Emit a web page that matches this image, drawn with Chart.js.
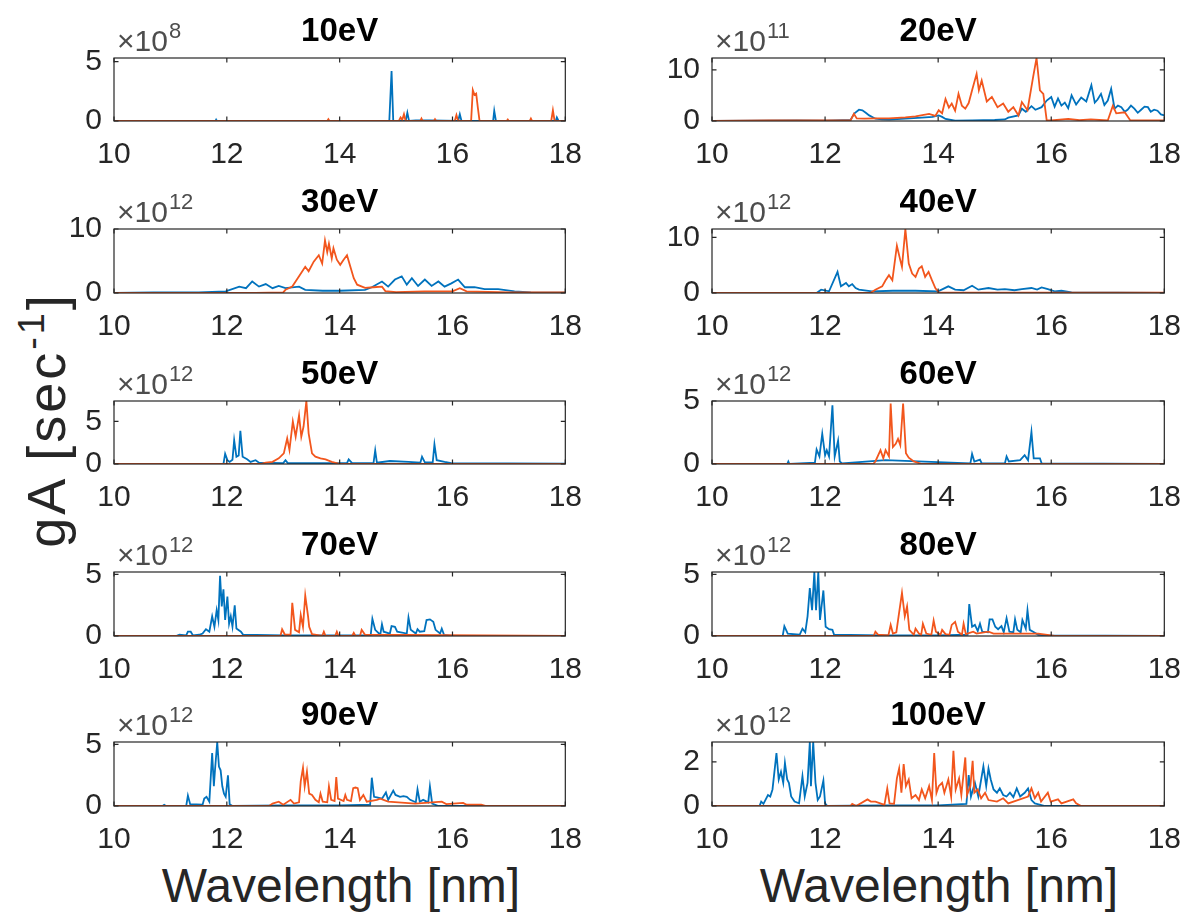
<!DOCTYPE html>
<html>
<head>
<meta charset="utf-8">
<script src="https://cdn.jsdelivr.net/npm/chart.js@4.4.1/dist/chart.umd.min.js"></script>
<style>
  html, body { margin: 0; padding: 0; background: #fff; }
  #page { position: relative; width: 1187px; height: 916px; overflow: hidden; background: #fff; }
  canvas { position: absolute; }
  .lbl { position: absolute; font-family: "Liberation Sans", Arial, sans-serif; color: #262626; white-space: nowrap; line-height: 1; }
  .lbl sup { font-size: 0.7em; vertical-align: 0.55em; line-height: 0; }
</style>
</head>
<body>
<div id="page">
  <div class="lbl" id="xlab1" style="left:341px; top:862px; font-size:48px; transform:translateX(-50%);">Wavelength [nm]</div>
  <div class="lbl" id="xlab2" style="left:939px; top:862px; font-size:48px; transform:translateX(-50%);">Wavelength [nm]</div>
  <div class="lbl" id="ylab" style="left:46px; top:420px; font-size:54px; letter-spacing:3px; transform:translate(-50%,-50%) rotate(-90deg);">gA [sec<sup>-1</sup>]</div>
</div>
<script>
// x values in nm, y values in units of the panel multiplier
var titles = ['10eV','20eV','30eV','40eV','50eV','60eV','70eV','80eV','90eV','100eV'];
var exponents = [8, 11, 12, 12, 12, 12, 12, 12, 12, 12];
var yMaxes = [5.3, 12.3, 10, 11.5, 7.4, 5, 5.2, 5.2, 5.2, 2.9];
var yTickSets = [[0,5],[0,5,10],[0,5,10],[0,5,10],[0,5],[0,5],[0,5],[0,5],[0,5],[0,2]];
var xTicks = [10, 12, 14, 16, 18];

var blue10 = [[10,0],[11.8,0],[11.81,0.1],[11.82,0],[14.88,0],[14.92,4.2],[14.95,0],[15.17,0],[15.2,0.7],[15.23,0],[15.35,0.05],[15.6,0.05],[16.1,0],[16.13,0.57],[16.16,0],[16.72,0],[16.74,0.86],[16.77,0],[17.83,0],[17.85,0.3],[17.88,0],[18,0]];
var orange10 = [[10,0],[13.78,0],[13.8,0.15],[13.82,0],[15.05,0],[15.08,0.3],[15.11,0.1],[15.14,0.57],[15.17,0],[15.43,0],[15.45,0.2],[15.47,0],[15.67,0],[15.69,0.15],[15.71,0],[16.04,0],[16.07,0.5],[16.1,0],[16.33,0],[16.36,2.6],[16.39,2.2],[16.42,2.3],[16.45,1.1],[16.48,0],[16.96,0],[16.98,0.12],[17.0,0],[17.37,0],[17.39,0.2],[17.41,0],[17.75,0],[17.78,0.9],[17.81,0],[18,0]];

var blue20 = [[10,0],[11.5,0.1],[12.0,0.05],[12.45,0.2],[12.52,1.5],[12.6,2.2],[12.66,2.1],[12.72,1.6],[12.78,1.1],[12.89,0.45],[13.0,0.3],[13.13,0.25],[13.42,0.45],[13.71,0.65],[13.9,0.8],[14.01,1.1],[14.07,0.8],[14.13,0.4],[14.3,0.05],[14.6,0.1],[15.0,0.2],[15.18,0.3],[15.24,0.65],[15.42,1.1],[15.48,2.4],[15.55,1.8],[15.65,2.9],[15.72,2.2],[15.83,2.7],[15.92,4.0],[16.0,4.7],[16.06,2.8],[16.12,4.4],[16.18,3.0],[16.24,3.6],[16.3,2.5],[16.36,5.0],[16.44,3.2],[16.53,4.6],[16.62,3.8],[16.71,7.0],[16.77,3.6],[16.82,4.2],[16.88,5.3],[16.94,3.1],[17.0,4.0],[17.06,6.3],[17.12,2.4],[17.18,3.0],[17.24,2.7],[17.3,1.8],[17.35,2.2],[17.41,3.0],[17.47,2.4],[17.53,1.6],[17.59,2.2],[17.65,2.8],[17.71,2.7],[17.76,1.8],[17.82,2.2],[17.88,2.0],[17.94,1.3],[18.0,1.1]];
var orange20 = [[10,0],[11.0,0.1],[12.45,0.1],[12.51,1.4],[12.56,0.5],[12.7,0.45],[12.89,0.5],[13.13,0.5],[13.42,0.7],[13.6,0.9],[13.84,1.4],[13.95,1.0],[14.01,2.1],[14.07,1.5],[14.13,4.3],[14.19,2.6],[14.24,3.4],[14.3,2.0],[14.36,5.3],[14.42,3.0],[14.48,2.4],[14.54,3.5],[14.6,6.0],[14.68,9.2],[14.72,6.0],[14.77,7.9],[14.86,3.8],[14.95,4.7],[15.05,2.7],[15.15,3.4],[15.24,1.8],[15.33,2.7],[15.42,1.1],[15.48,3.7],[15.58,2.1],[15.68,8.6],[15.74,12.3],[15.8,6.0],[15.86,5.3],[15.92,0.1],[16.0,0.1],[16.3,0.4],[16.5,0.15],[16.7,0.3],[17.0,0.1],[17.09,3.0],[17.15,1.5],[17.3,1.7],[17.4,0.1],[18,0.1]];

var blue30 = [[10,0],[10.7,0.1],[11.5,0.1],[11.98,0.25],[12.22,1.0],[12.34,0.75],[12.45,1.8],[12.57,1.0],[12.69,1.4],[12.81,0.75],[12.92,1.1],[13.04,0.75],[13.28,1.0],[13.39,0.5],[13.7,0.35],[14.0,0.35],[14.45,0.5],[14.57,0.9],[14.75,1.8],[14.86,1.0],[14.98,2.1],[15.1,2.6],[15.19,1.3],[15.28,2.3],[15.39,1.1],[15.51,2.1],[15.63,1.1],[15.75,1.8],[15.86,1.0],[15.98,1.5],[16.1,2.1],[16.22,0.9],[16.39,0.9],[16.57,0.6],[16.81,0.6],[17.1,0.25],[17.39,0.1],[18,0.05]];
var orange30 = [[10,0],[12.5,0],[13.0,0.1],[13.04,0.5],[13.16,1.0],[13.28,2.6],[13.39,4.1],[13.45,3.4],[13.54,4.9],[13.63,5.9],[13.69,4.6],[13.74,8.2],[13.78,6.4],[13.81,7.7],[13.86,5.4],[13.89,7.0],[13.95,5.2],[14.01,4.4],[14.07,5.2],[14.13,5.9],[14.19,4.1],[14.25,2.3],[14.31,1.3],[14.45,0.8],[14.6,0.9],[14.75,1.0],[14.81,0.3],[15.0,0.15],[15.5,0.25],[16.0,0.25],[16.13,0.75],[16.25,0.25],[17.0,0.1],[18,0.1]];

var blue40 = [[10,0],[11.85,0],[11.93,0.6],[12.07,0.3],[12.22,3.8],[12.28,1.2],[12.37,1.8],[12.42,1.2],[12.48,1.6],[12.54,0.9],[12.6,0.6],[12.83,0.3],[13.2,0.4],[13.6,0.4],[14.0,0.3],[14.18,1.2],[14.3,0.6],[14.45,0.5],[14.6,1.3],[14.71,0.6],[14.89,0.9],[15.05,0.6],[15.18,0.7],[15.35,0.5],[15.48,0.7],[15.65,0.9],[15.75,0.6],[15.83,1.0],[15.94,0.7],[16.06,0.3],[16.18,0.4],[16.36,0.1],[18,0]];
var orange40 = [[10,0],[12.8,0],[12.89,0.6],[13.01,1.2],[13.07,2.3],[13.13,3.2],[13.19,2.3],[13.27,8.5],[13.33,5.9],[13.36,4.7],[13.42,11.5],[13.48,5.3],[13.54,3.5],[13.6,2.9],[13.66,4.4],[13.71,4.8],[13.77,2.9],[13.83,3.8],[13.89,2.3],[13.95,0.9],[14.01,0.1],[18,0.05]];

var blue50 = [[10,0],[11.94,0],[11.97,1.2],[12.01,0.45],[12.05,0.25],[12.1,0.5],[12.13,2.8],[12.17,0.85],[12.21,1.0],[12.24,3.9],[12.28,0.85],[12.36,0.55],[12.42,0.25],[12.51,0.45],[12.57,0.15],[13.0,0.1],[13.04,0.45],[13.08,0.1],[14.13,0.1],[14.16,0.55],[14.22,0.1],[14.6,0.1],[14.63,1.6],[14.66,0.15],[14.89,0.35],[15.22,0.25],[15.43,0.15],[15.46,0.86],[15.51,0.2],[15.65,0.2],[15.68,2.3],[15.72,0.45],[15.86,0.25],[15.98,0.1],[18,0.05]];
var orange50 = [[10,0],[12.6,0],[12.69,0.15],[12.81,0.25],[12.92,0.66],[13.01,1.25],[13.07,3.0],[13.11,1.65],[13.17,5.0],[13.22,3.2],[13.28,5.7],[13.32,3.2],[13.36,4.4],[13.41,7.4],[13.45,3.6],[13.51,1.25],[13.57,0.86],[13.66,0.66],[13.75,0.55],[13.86,0.25],[13.98,0.05],[18,0]];

var blue60 = [[10,0],[11.33,0],[11.35,0.2],[11.37,0],[11.82,0.1],[11.85,1.15],[11.9,0.6],[11.95,2.4],[12.0,0.7],[12.03,1.1],[12.07,0.6],[12.13,4.65],[12.17,0.6],[12.23,1.85],[12.26,0.2],[12.3,0.05],[13.07,0.3],[14.57,0.05],[14.6,0.8],[14.64,0.2],[14.74,0.35],[14.77,0.05],[15.18,0.05],[15.21,0.6],[15.25,0.2],[15.45,0.3],[15.53,0.7],[15.59,0.3],[15.65,2.55],[15.69,0.45],[15.8,0.45],[15.83,0.05],[18,0]];
var orange60 = [[10,0],[12.85,0],[12.89,0.2],[12.98,1.1],[13.03,0.45],[13.07,1.1],[13.13,0.6],[13.16,4.8],[13.2,1.35],[13.25,1.6],[13.29,2.0],[13.33,1.5],[13.38,4.8],[13.43,0.85],[13.48,0.5],[13.57,0.2],[13.71,0],[18,0]];

var blue70 = [[10,0],[11.1,0],[11.16,0.1],[11.28,0.05],[11.31,0.35],[11.36,0.35],[11.4,0.05],[11.51,0.1],[11.57,0.2],[11.63,0.55],[11.69,0.35],[11.74,1.6],[11.78,0.75],[11.82,2.1],[11.85,1.3],[11.88,4.9],[11.91,2.4],[11.94,3.8],[11.97,1.3],[12.01,3.2],[12.04,1.0],[12.07,1.6],[12.1,0.75],[12.14,2.5],[12.17,0.6],[12.25,0.35],[12.29,0.1],[13.0,0.05],[14.0,0.05],[14.55,0.05],[14.58,1.4],[14.63,0.5],[14.72,0.1],[14.75,0.95],[14.78,0.35],[14.89,0.2],[14.92,0.8],[14.98,0.75],[15.02,0.35],[15.19,0.2],[15.22,1.5],[15.26,0.5],[15.35,0.2],[15.38,0.55],[15.42,0.35],[15.5,0.4],[15.54,1.3],[15.6,1.35],[15.66,1.15],[15.7,0.5],[15.78,0.2],[15.81,0.6],[15.85,0.1],[15.98,0],[18,0]];
var orange70 = [[10,0],[12.95,0],[12.98,0.55],[13.03,0.1],[13.13,0.1],[13.16,2.7],[13.21,0.5],[13.28,0.3],[13.31,1.7],[13.35,0.75],[13.39,3.3],[13.44,1.6],[13.46,0.75],[13.51,0.15],[13.69,0],[13.72,0.35],[13.75,0],[13.92,0],[13.95,0.35],[13.98,0],[14.22,0],[14.25,0.25],[14.28,0],[14.36,0],[14.39,0.5],[14.45,0.1],[18,0]];

var blue80 = [[10,0],[11.25,0],[11.28,0.8],[11.34,0.2],[11.55,0.1],[11.6,0.6],[11.65,0.3],[11.69,1.6],[11.73,3.9],[11.77,2.1],[11.81,5.2],[11.84,2.1],[11.88,5.2],[11.91,1.3],[11.97,3.7],[12.01,0.75],[12.07,0.55],[12.13,0.5],[12.16,0.1],[13.0,0.05],[14.0,0.05],[14.52,0.1],[14.55,2.6],[14.6,0.75],[14.65,0.9],[14.7,0.4],[14.74,1.0],[14.78,0.35],[14.88,0.3],[14.91,1.35],[14.96,1.35],[15.01,0.75],[15.06,0.55],[15.12,0.8],[15.16,0.3],[15.21,1.45],[15.26,0.35],[15.33,0.3],[15.36,1.35],[15.4,0.5],[15.46,0.3],[15.49,1.3],[15.55,0.6],[15.58,2.1],[15.62,0.5],[15.68,0.35],[15.77,0.1],[15.9,0.05],[18,0]];
var orange80 = [[10,0],[12.86,0],[12.89,0.35],[12.94,0.1],[13.12,0.05],[13.16,0.9],[13.2,0.2],[13.26,0.3],[13.3,1.6],[13.36,3.5],[13.41,1.6],[13.45,2.4],[13.49,0.5],[13.57,0.1],[13.6,0.6],[13.66,0.2],[13.7,0.1],[13.73,1.0],[13.79,0.2],[13.88,0.1],[13.92,1.25],[13.96,0.35],[14.04,0.1],[14.07,0.5],[14.13,0.15],[14.2,0.1],[14.24,0.9],[14.3,1.15],[14.35,0.35],[14.42,0.1],[14.45,1.0],[14.49,0.15],[14.62,0.35],[14.68,0.2],[14.89,0.35],[14.98,0.2],[15.77,0.2],[16.06,0],[18,0]];

var blue90 = [[10,0],[10.86,0],[10.89,0.1],[10.92,0],[11.28,0],[11.31,0.85],[11.35,0.15],[11.57,0.1],[11.6,0.6],[11.64,0.75],[11.69,0.35],[11.74,4.3],[11.77,1.6],[11.79,2.9],[11.83,5.2],[11.86,3.2],[11.89,2.9],[11.92,1.6],[11.95,1.0],[11.98,0.75],[12.02,2.5],[12.05,0.15],[12.1,0],[13.0,0.05],[14.0,0.05],[14.54,0.1],[14.57,2.3],[14.61,0.75],[14.66,0.7],[14.75,0.6],[14.82,1.1],[14.86,0.5],[14.95,1.25],[14.99,0.9],[15.07,0.75],[15.13,0.8],[15.19,0.75],[15.25,0.5],[15.35,0.3],[15.38,1.35],[15.42,0.35],[15.48,0.5],[15.57,0.3],[15.6,1.6],[15.64,0.2],[15.75,0],[18,0]];
var orange90 = [[10,0],[12.75,0],[12.81,0.2],[12.92,0.35],[13.0,0.1],[13.13,0.5],[13.19,0.2],[13.28,0.3],[13.31,2.0],[13.35,3.1],[13.38,1.6],[13.42,2.8],[13.46,1.0],[13.51,0.9],[13.57,0.5],[13.63,0.3],[13.66,1.0],[13.7,0.35],[13.78,0.3],[13.81,1.6],[13.85,0.5],[13.91,0.4],[13.94,2.35],[13.97,0.6],[14.07,0.4],[14.1,0.9],[14.13,0.5],[14.2,0.4],[14.24,1.45],[14.28,1.5],[14.32,1.45],[14.36,0.5],[14.42,0.9],[14.48,0.35],[14.66,0.5],[14.72,0.6],[14.86,0.35],[15.34,0.2],[15.81,0.35],[15.89,0.15],[16.19,0.25],[16.25,0.1],[16.51,0.1],[16.6,0],[18,0]];

var blue100 = [[10,0],[10.84,0],[10.87,0.2],[10.91,0.1],[10.99,0.5],[11.03,0.43],[11.07,0.75],[11.14,2.4],[11.18,1.2],[11.22,1.55],[11.26,1.05],[11.29,1.95],[11.33,1.2],[11.36,1.05],[11.4,0.43],[11.46,0.2],[11.54,0.12],[11.6,1.35],[11.64,0.43],[11.69,1.05],[11.73,2.9],[11.75,0.9],[11.79,2.9],[11.83,1.05],[11.87,0.27],[11.91,0.43],[11.97,1.15],[12.0,0.12],[12.04,0],[13.0,0.03],[14.0,0.03],[14.5,0.1],[14.54,1.4],[14.58,0.43],[14.65,1.05],[14.71,0.43],[14.8,1.8],[14.85,0.9],[14.89,1.7],[14.93,1.2],[14.98,0.75],[15.04,0.6],[15.09,0.8],[15.15,0.5],[15.21,0.43],[15.27,0.6],[15.33,0.4],[15.39,0.8],[15.45,0.43],[15.53,0.6],[15.59,0.8],[15.65,0.27],[15.71,0.12],[15.89,0],[18,0]];
var orange100 = [[10,0],[12.45,0],[12.48,0.1],[12.55,0],[12.75,0.3],[12.81,0.2],[12.89,0.2],[13.05,0.05],[13.1,0.8],[13.14,0.12],[13.22,0.1],[13.27,1.25],[13.31,1.7],[13.35,0.6],[13.39,1.9],[13.43,0.9],[13.48,1.2],[13.53,0.35],[13.6,0.5],[13.66,0.27],[13.71,0.75],[13.77,0.35],[13.84,0.9],[13.89,0.27],[13.93,2.4],[13.97,0.6],[14.01,0.9],[14.07,1.05],[14.11,0.6],[14.18,1.2],[14.23,0.43],[14.27,2.5],[14.31,0.75],[14.37,1.25],[14.41,0.5],[14.48,2.2],[14.51,0.5],[14.57,0.9],[14.61,2.05],[14.64,0.6],[14.7,0.75],[14.76,0.35],[14.83,0.6],[14.89,0.27],[15.04,0.2],[15.15,0.35],[15.24,0.12],[15.59,0.43],[15.65,0.8],[15.71,0.35],[15.77,0.6],[15.82,0.2],[15.94,0.6],[15.99,0.2],[16.12,0.3],[16.18,0.12],[16.39,0.3],[16.44,0.12],[16.53,0],[18,0]];

var blueSets = [blue10, blue20, blue30, blue40, blue50, blue60, blue70, blue80, blue90, blue100];
var orangeSets = [orange10, orange20, orange30, orange40, orange50, orange60, orange70, orange80, orange90, orange100];

// layout of the 5x2 grid (plot boxes in page pixels)
var colLeft = [114, 712];
var colWidth = [454, 455];
var rowTop = [58, 229, 401, 572, 742];
var rowHeight = [63, 64, 63, 64, 64];
var FONT = '"Liberation Sans", Arial, sans-serif';
var AXC = '#262626';

function toPoints(pairs) {
  return pairs.map(function(p) { return {x: p[0], y: p[1]}; });
}

var boxPlugin = {
  id: 'matlabBox',
  afterDraw: function(chart, args, opts) {
    var ctx = chart.ctx, a = chart.chartArea;
    var xs = chart.scales.x, ys = chart.scales.y;
    ctx.save();
    ctx.strokeStyle = AXC;
    ctx.lineWidth = 1.2;
    ctx.strokeRect(a.left, a.top, a.right - a.left, a.bottom - a.top);
    ctx.beginPath();
    xs.ticks.forEach(function(t) {
      var px = xs.getPixelForValue(t.value);
      ctx.moveTo(px, a.bottom); ctx.lineTo(px, a.bottom - 4.5);
      ctx.moveTo(px, a.top); ctx.lineTo(px, a.top + 4.5);
    });
    ys.ticks.forEach(function(t) {
      var py = ys.getPixelForValue(t.value);
      ctx.moveTo(a.left, py); ctx.lineTo(a.left + 4.5, py);
      ctx.moveTo(a.right, py); ctx.lineTo(a.right - 4.5, py);
    });
    ctx.stroke();
    // exponent label
    ctx.fillStyle = '#4d4d4d';
    ctx.textBaseline = 'alphabetic';
    ctx.textAlign = 'left';
    ctx.font = '30px ' + FONT;
    ctx.fillText('\u00d710', a.left + 3, a.top - 7);
    var w = ctx.measureText('\u00d710').width;
    ctx.font = '22px ' + FONT;
    ctx.fillText(String(opts.exp), a.left + 4 + w, a.top - 20);
    ctx.restore();
  }
};

var page = document.getElementById('page');

for (let i = 0; i < 10; i++) {
  let col = i % 2, row = Math.floor(i / 2);
  let cv = document.createElement('canvas');
  let w = 100 + colWidth[col] + 30;
  let h = 60 + rowHeight[row] + 50;
  cv.width = w; cv.height = h;
  cv.style.left = (colLeft[col] - 100) + 'px';
  cv.style.top = (rowTop[row] - 60) + 'px';
  cv.style.width = w + 'px'; cv.style.height = h + 'px';
  page.appendChild(cv);

  let yTicks = yTickSets[i];

  new Chart(cv, {
    type: 'line',
    data: {
      datasets: [{
        data: toPoints(orangeSets[i]),
        borderColor: '#f2561d',
        borderWidth: 1.8,
        pointRadius: 0,
        tension: 0
      }, {
        data: toPoints(blueSets[i]),
        borderColor: '#0072bd',
        borderWidth: 1.8,
        pointRadius: 0,
        tension: 0
      }]
    },
    options: {
      responsive: false,
      devicePixelRatio: 1,
      animation: false,
      layout: { padding: { left: 0, right: 30, top: 0, bottom: 0 } },
      plugins: {
        legend: { display: false },
        tooltip: { enabled: false },
        title: {
          display: true,
          text: titles[i],
          fullSize: false,
          color: '#000',
          font: { family: FONT, size: 33, weight: 'bold', lineHeight: 1 },
          padding: { top: 17, bottom: 10 }
        },
        matlabBox: { exp: exponents[i] }
      },
      scales: {
        x: {
          type: 'linear',
          min: 10,
          max: 18,
          afterBuildTicks: function(scale) {
            scale.ticks = xTicks.map(function(v) { return {value: v}; });
          },
          afterFit: function(scale) { scale.height = 50; },
          grid: { display: false, drawTicks: false },
          border: { display: false },
          ticks: { color: AXC, padding: 16, maxRotation: 0, font: { family: FONT, size: 30 } }
        },
        y: {
          type: 'linear',
          min: 0,
          max: yMaxes[i],
          afterBuildTicks: function(scale) {
            scale.ticks = yTicks.map(function(v) { return {value: v}; });
          },
          afterFit: function(scale) { scale.width = 100; },
          grid: { display: false, drawTicks: false },
          border: { display: false },
          ticks: { color: AXC, padding: 12, font: { family: FONT, size: 30 } }
        }
      }
    },
    plugins: [boxPlugin]
  });
}
</script>
</body>
</html>
